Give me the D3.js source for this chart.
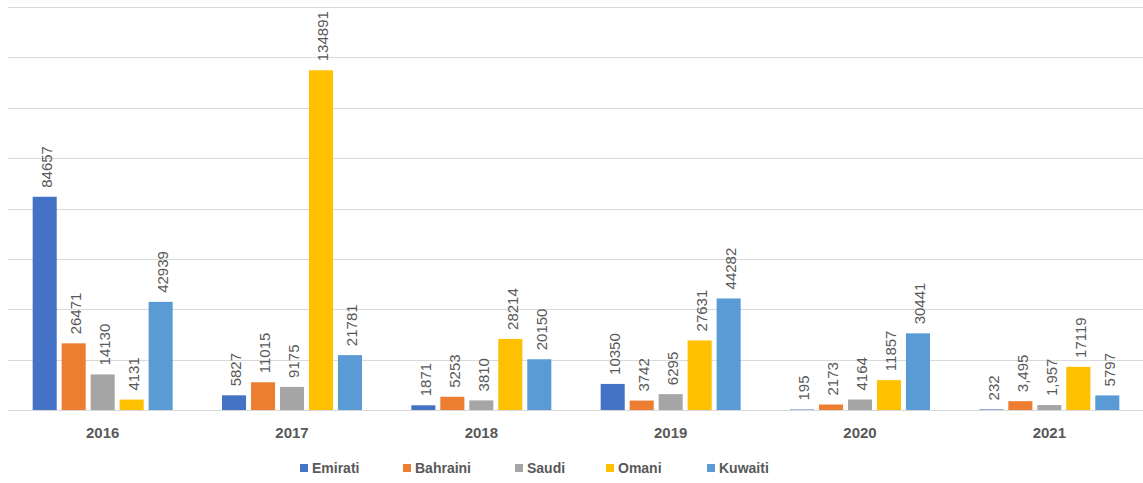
<!DOCTYPE html>
<html>
<head>
<meta charset="utf-8">
<script src="https://cdn.jsdelivr.net/npm/d3@7"></script>
<style>
  body { margin: 0; background: #fff; }
  svg { display: block; font-family: "Liberation Sans", Arial, sans-serif; }
</style>
</head>
<body>
<div id="container"></div>
<script>
const w = 1143,
    h = 483;

// data
const years = ["2016", "2017", "2018", "2019", "2020", "2021"];
const series = ["Emirati", "Bahraini", "Saudi", "Omani", "Kuwaiti"];
const colors = ["#4472C4", "#ED7D31", "#A5A5A5", "#FFC000", "#5B9BD5"];
const emirati = [84657, 5827, 1871, 10350, 195, 232];
const bahraini = [26471, 11015, 5253, 3742, 2173, 3495];
const saudi = [14130, 9175, 3810, 6295, 4164, 1957];
const omani = [4131, 134891, 28214, 27631, 11857, 17119];
const kuwaiti = [42939, 21781, 20150, 44282, 30441, 5797];
// the 2021 labels carry thousands separators in the source
const commaLabels = { "2021|Bahraini": true, "2021|Saudi": true };
const yTicks = [0, 20000, 40000, 60000, 80000, 100000, 120000, 140000, 160000];

const values = [emirati, bahraini, saudi, omani, kuwaiti];
const rows = [];
years.forEach((yr, i) => {
    series.forEach((s, j) => {
        rows.push({ year: yr, name: s, value: values[j][i], color: colors[j] });
    });
});

const margin = { top: 7, right: -1, bottom: 73, left: 8 },
    groupWidth = 140;

const svg = d3.select("div#container")
    .append("svg")
    .attr("width", w)
    .attr("height", h);

const x0 = d3.scaleBand()
    .domain(years)
    .range([margin.left, w - margin.right]);

const x1 = d3.scaleBand()
    .domain(series)
    .range([0, groupWidth])
    .paddingInner(0.17);

const y = d3.scaleLinear()
    .domain([0, 160000])
    .range([h - margin.bottom, margin.top]);

// gridlines
svg.append("g")
    .selectAll("line")
    .data(yTicks)
    .enter().append("line")
    .attr("x1", margin.left)
    .attr("x2", w)
    .attr("y1", d => Math.round(y(d)) + 0.5)
    .attr("y2", d => Math.round(y(d)) + 0.5)
    .style("stroke", "#D9D9D9")
    .style("stroke-width", 1);

const groupOffset = (x0.bandwidth() - groupWidth) / 2;

// bars
svg.append("g")
    .selectAll("rect")
    .data(rows)
    .enter().append("rect")
    .attr("x", d => x0(d.year) + groupOffset + x1(d.name))
    .attr("y", d => y(d.value))
    .attr("width", x1.bandwidth())
    .attr("height", d => y(0) - y(d.value))
    .style("fill", d => d.color);

// value labels, rotated
const fmtComma = d3.format(",");
svg.append("g")
    .selectAll("text")
    .data(rows)
    .enter().append("text")
    .attr("transform", d => {
        const cx = x0(d.year) + groupOffset + x1(d.name) + x1.bandwidth() / 2 + 2;
        const cy = y(d.value) - 9;
        return "translate(" + cx + "," + cy + ") rotate(-90)";
    })
    .attr("dy", "0.35em")
    .attr("text-anchor", "start")
    .style("font-size", "15px")
    .style("fill", "#595959")
    .text(d => commaLabels[d.year + "|" + d.name] ? fmtComma(d.value) : String(d.value));

// category axis labels
const xAxis = svg.append("g")
    .attr("transform", "translate(0," + (h - margin.bottom) + ")")
    .call(d3.axisBottom(x0).tickSize(0).tickPadding(17));
xAxis.select(".domain").remove();
xAxis.selectAll("text")
    .style("font-family", "Liberation Sans, Arial, sans-serif")
    .style("font-size", "15px")
    .style("font-weight", "bold")
    .style("fill", "#595959");

// legend
const legendX = [300, 403, 515, 606, 707];
const legend = svg.append("g")
    .attr("transform", "translate(0,468)");
const items = legend.selectAll("g")
    .data(series)
    .enter().append("g")
    .attr("transform", (d, i) => "translate(" + legendX[i] + ",0)");
items.append("rect")
    .attr("x", 0)
    .attr("y", -4)
    .attr("width", 8)
    .attr("height", 8)
    .style("fill", (d, i) => colors[i]);
items.append("text")
    .attr("x", 12)
    .attr("dy", "0.35em")
    .style("font-size", "14px")
    .style("font-weight", "bold")
    .style("fill", "#595959")
    .text(d => d);
</script>
</body>
</html>
